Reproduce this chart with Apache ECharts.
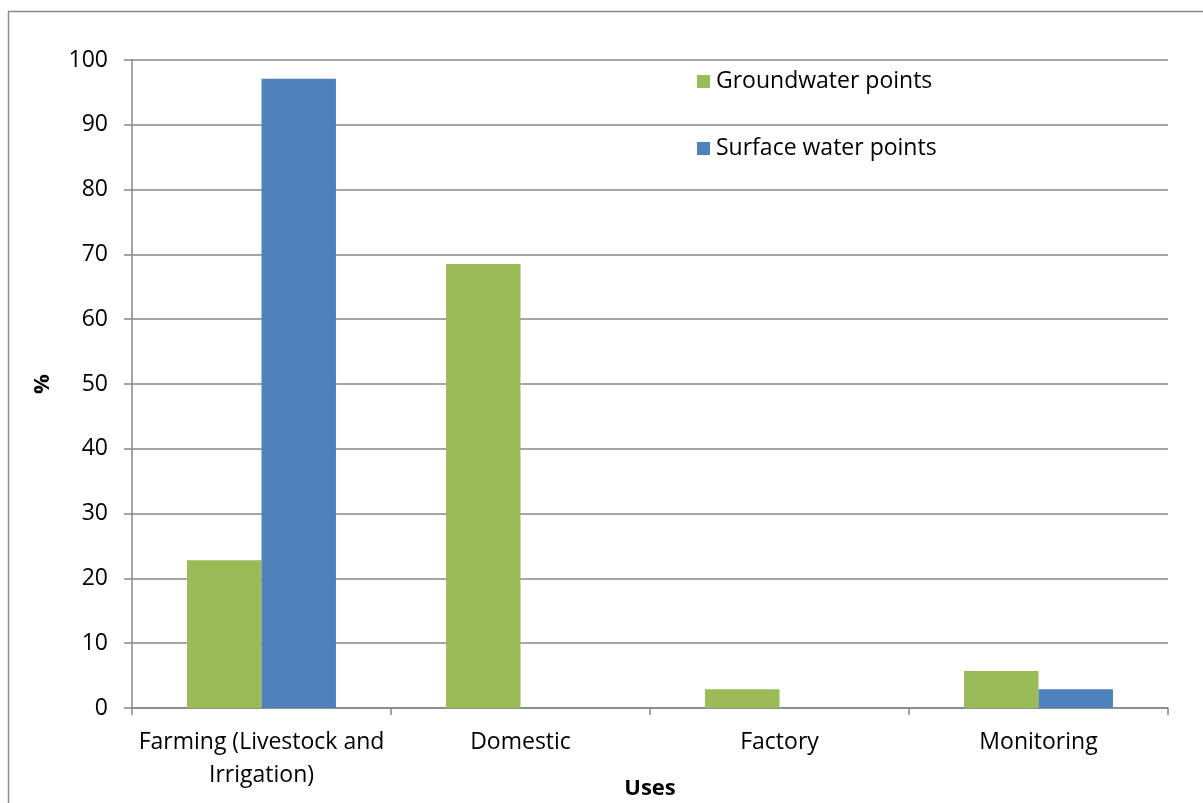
<!DOCTYPE html>
<html>
<head>
<meta charset="utf-8">
<script src="https://cdn.jsdelivr.net/npm/echarts@6/dist/echarts.min.js"></script>
<style>
  html, body { margin: 0; padding: 0; background: #ffffff; }
  #chart { width: 1203px; height: 803px; }
</style>
</head>
<body>
<div id="chart"></div>
<script>
// Share of water points by use (%)
const categories = ['Farming (Livestock and\nIrrigation)', 'Domestic', 'Factory', 'Monitoring'];
const groundwater = [22.8, 68.5, 2.9, 5.7];
const surfaceWater = [97.1, 0, 0, 2.9];
const yTicks = [0, 10, 20, 30, 40, 50, 60, 70, 80, 90, 100];

const FONT = '"Open Sans", Lato, sans-serif';
const FS = 23;
const GRID_GRAY = '#878787';

const chart = echarts.init(document.getElementById('chart'), null, { renderer: 'canvas' });

chart.setOption({
  animation: false,
  backgroundColor: '#ffffff',
  graphic: [{
    type: 'rect',
    shape: { x: 8.5, y: 11.5, width: 1200, height: 800 },
    style: { fill: 'none', stroke: '#8a8a8a', lineWidth: 1.5 },
    silent: true
  }],
  grid: { left: 132, right: 35, top: 60, bottom: 95, containLabel: false, outerBoundsMode: 'none' },
  legend: {
    orient: 'vertical',
    left: 692,
    top: 65,
    itemWidth: 13,
    itemHeight: 13,
    itemGap: 44,
    icon: 'rect',
    textStyle: { fontFamily: FONT, fontSize: FS, color: '#000000', padding: [0, 0, 0, 1] },
    data: ['Groundwater points', 'Surface water points']
  },
  xAxis: {
    type: 'category',
    data: categories,
    name: 'Uses',
    nameLocation: 'middle',
    nameGap: 70,
    nameMoveOverlap: false,
    nameTextStyle: { fontFamily: FONT, fontSize: FS - 1, fontWeight: 'bold', color: '#000000' },
    axisLine: { lineStyle: { color: GRID_GRAY, width: 1.5 } },
    axisTick: { show: true, length: 7, lineStyle: { color: GRID_GRAY, width: 1.5 } },
    axisLabel: {
      fontFamily: FONT, fontSize: FS, color: '#000000',
      margin: 18, lineHeight: 33, interval: 0
    },
    splitLine: { show: false }
  },
  yAxis: {
    type: 'value',
    min: 0,
    max: 100,
    interval: 10,
    name: '%',
    nameLocation: 'middle',
    nameGap: 78,
    nameRotate: 90,
    nameTextStyle: { fontFamily: FONT, fontSize: FS - 1, fontWeight: 'bold', color: '#000000' },
    axisLine: { show: true, lineStyle: { color: GRID_GRAY, width: 1.5 } },
    axisTick: { show: true, length: 8, lineStyle: { color: GRID_GRAY, width: 1.5 } },
    axisLabel: {
      fontFamily: FONT, fontSize: FS, color: '#000000', margin: 24,
      formatter: function (v) { return yTicks.indexOf(v) >= 0 ? String(v) : ''; }
    },
    splitLine: { show: true, lineStyle: { color: GRID_GRAY, width: 1.5 } }
  },
  series: [
    {
      name: 'Groundwater points',
      type: 'bar',
      data: groundwater,
      barGap: '0%',
      barCategoryGap: '42.5%',
      itemStyle: { color: '#9BBB59' }
    },
    {
      name: 'Surface water points',
      type: 'bar',
      data: surfaceWater,
      barGap: '0%',
      barCategoryGap: '42.5%',
      itemStyle: { color: '#4F81BD' }
    }
  ]
});
</script>
</body>
</html>
